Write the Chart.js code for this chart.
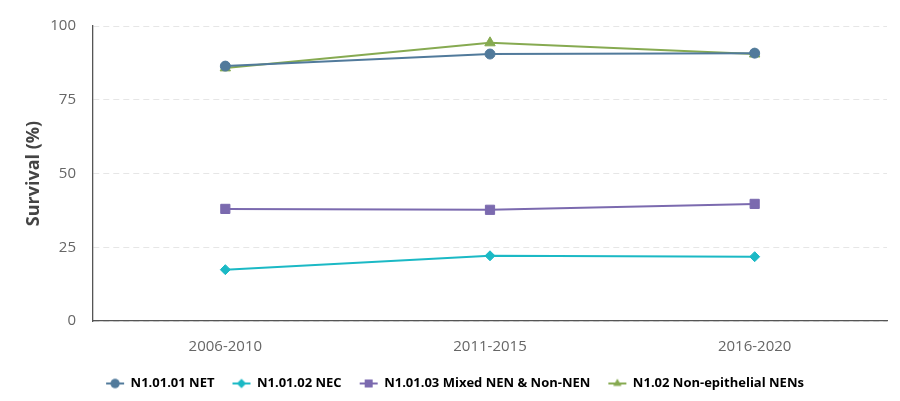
<!DOCTYPE html>
<html>
<head>
<meta charset="utf-8">
<script src="https://cdn.jsdelivr.net/npm/chart.js@4"></script>
<style>
  html, body { margin: 0; padding: 0; background: #fff; }
  #wrap { width: 900px; height: 401px; }
</style>
</head>
<body>
<div id="wrap"><canvas id="chart"></canvas></div>
<script>
// data
const periods = ['2006-2010', '2011-2015', '2016-2020'];
const netValues = [86.4, 90.5, 90.8];
const necValues = [17.4, 22.1, 21.8];
const mixedValues = [38.0, 37.7, 39.7];
const nonEpiValues = [85.8, 94.3, 90.5];
const seriesNames = ['N1.01.01 NET', 'N1.01.02 NEC', 'N1.01.03 Mixed NEN & Non-NEN', 'N1.02 Non-epithelial NENs'];
const yTicks = [0, 25, 50, 75, 100];

const colors = ['#517a9b', '#1bb9c5', '#7b6aaf', '#86aa51'];
const styles = ['circle', 'rectRot', 'rect', 'triangle'];
const radii = [5, 5, 6.5, 6];

//small canvas used as legend symbol: line with marker in the middle
function legendSymbol(color, style) {
    const c = document.createElement('canvas');
    c.width = 20;
    c.height = 12;
    const ctx = c.getContext('2d');
    ctx.strokeStyle = color;
    ctx.fillStyle = color;
    ctx.lineWidth = 2;
    ctx.beginPath();
    ctx.moveTo(1, 6);
    ctx.lineTo(19, 6);
    ctx.stroke();
    Chart.helpers.drawPoint(ctx, {pointStyle: style, radius: style == 'rect' ? 5.5 : 4.5, borderWidth: 0}, 10, 6);
    ctx.fill();
    return c;
}

const allValues = [netValues, necValues, mixedValues, nonEpiValues];
const datasets = allValues.map((vals, i) => ({
    label: seriesNames[i],
    data: vals,
    borderColor: colors[i],
    backgroundColor: colors[i],
    pointBackgroundColor: colors[i],
    pointBorderColor: colors[i],
    pointStyle: styles[i],
    pointRadius: radii[i],
    pointBorderWidth: 1,
    borderWidth: 2,
    tension: 0
}));

new Chart(document.getElementById('chart'), {
    type: 'line',
    data: { labels: periods, datasets: datasets },
    options: {
        responsive: true,
        maintainAspectRatio: false,
        animation: false,
        layout: { padding: { left: 23, right: 13, top: 17, bottom: 1 } },
        plugins: {
            tooltip: { enabled: false },
            legend: {
                position: 'bottom',
                labels: {
                    usePointStyle: true,
                    pointStyleWidth: 18,
                    boxHeight: 12,
                    padding: 18,
                    color: '#333',
                    font: { family: 'Open Sans', size: 13, weight: 'bold' },
                    generateLabels: function(chart) {
                        return chart.data.datasets.map((ds, i) => ({
                            text: ds.label,
                            fillStyle: colors[i],
                            strokeStyle: colors[i],
                            lineWidth: 0,
                            pointStyle: legendSymbol(colors[i], styles[i]),
                            datasetIndex: i,
                            hidden: false
                        }));
                    }
                }
            }
        },
        scales: {
            x: {
                offset: true,
                afterFit: function(scale) { scale.height = 38; },
                grid: { display: false, drawTicks: false },
                border: { display: true, color: '#555', width: 1.3 },
                ticks: { color: '#666', padding: 17, font: { family: 'Open Sans', size: 15 } }
            },
            y: {
                min: 0,
                max: 100,
                afterBuildTicks: function(scale) {
                    scale.ticks = yTicks.map(v => ({ value: v }));
                },
                afterFit: function(scale) { scale.width = 70; },
                grid: { color: '#e6e6e6', drawTicks: false },
                border: { display: true, color: '#555', width: 1.3, dash: [6, 4] },
                ticks: { color: '#666', padding: 17, font: { family: 'Open Sans', size: 15 } },
                title: {
                    display: true,
                    text: 'Survival (%)',
                    color: '#444',
                    padding: { top: 0, bottom: 8 },
                    font: { family: 'Open Sans', size: 18, weight: 'bold' }
                }
            }
        }
    }
});
</script>
</body>
</html>
